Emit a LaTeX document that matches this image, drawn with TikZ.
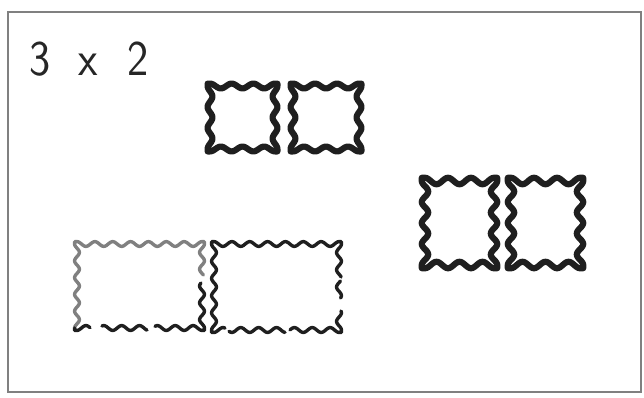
\documentclass[tikz,border=0pt]{standalone}
\usepackage{fontspec}
\begin{document}
\begin{tikzpicture}[x=1pt,y=-1pt,
  stampline/.style={draw=black!88, line width=#1, line cap=round, line join=round},
  stampline/.default=6.2pt,
  frameline/.style={draw=black!50, line width=1.2pt},
  title/.style={font=\sffamily\fontsize{50}{50}\selectfont, text=black!85, inner sep=0pt, anchor=base west, xscale=0.9}]
\useasboundingbox (0,0) rectangle (644,397);
% wave along x: #1 phase origin, #2 from, #3 to, #4 base y, #5 wavelength, #6 signed amplitude (outward peak at origin)
\newcommand\hwv[6]{plot[domain=#2:#3,samples=90,smooth] (\x,{#4+(#6)*cos((\x-#1)/(#5)*360)})}
\newcommand\vwv[6]{plot[domain=#2:#3,samples=90,smooth] ({#4+(#6)*cos((\x-#1)/(#5)*360)},\x)}
% full stamp: #1 x1 #2 y1 #3 x2 #4 y2 #5 nx #6 ny #7 amp
\newcommand\fullstamp[7]{%
  \hwv{#1}{#1}{#3}{#2}{(#3-#1)/#5}{-#7}
  \hwv{#1}{#1}{#3}{#4}{(#3-#1)/#5}{#7}
  \vwv{#2}{#2}{#4}{#1}{(#4-#2)/#6}{-#7}
  \vwv{#2}{#2}{#4}{#3}{(#4-#2)/#6}{#7}
  (#1,#2-#7) -- (#1-#7,#2-#7) -- (#1-#7,#2)
  (#3,#2-#7) -- (#3+#7,#2-#7) -- (#3+#7,#2)
  (#1,#4+#7) -- (#1-#7,#4+#7) -- (#1-#7,#4)
  (#3,#4+#7) -- (#3+#7,#4+#7) -- (#3+#7,#4)}

% frame
\draw[frameline] (8,12) rectangle (641,392);
\coordinate (frame) at (8,12);

% title
\node[title] (t) at (29,75) {3\hspace{31pt}x\hspace{33pt}2};

% small square stamps
\draw[stampline] \fullstamp{210}{86}{275}{149}{3}{3}{2.4};
\draw[stampline] \fullstamp{293}{86}{359}{149}{3}{3}{2.4};

% portrait stamps
\draw[stampline] \fullstamp{425}{181}{494}{265}{3}{4}{3.2};
\draw[stampline] \fullstamp{511}{181}{580}{265}{3}{4}{3.2};

% landscape stamp E (partly faded)
\draw[stampline=3.4pt, draw=black!50]
  \hwv{77}{77}{202}{244}{17.86}{-2.4}
  \vwv{244}{244}{328}{77}{16.8}{-2.4}
  \vwv{244}{244}{275}{202}{16.8}{2.4}
  (77,241.6) -- (74.6,241.6) -- (74.6,244)
  (202,241.6) -- (204.4,241.6) -- (204.4,244);
\draw[stampline=3.4pt]
  \vwv{244}{283}{328}{202}{16.8}{2.4}
  \hwv{77}{77}{90}{328}{17.86}{2.4}
  \hwv{77}{102}{147}{328}{17.86}{2.4}
  \hwv{77}{155}{202}{328}{17.86}{2.4}
  (77,330.4) -- (74.6,330.4) -- (74.6,328)
  (202,330.4) -- (204.4,330.4) -- (204.4,328);

% landscape stamp F (broken)
\draw[stampline=3.4pt]
  \hwv{214}{214}{339}{244}{17.86}{-2.4}
  \vwv{244}{244}{330}{214}{17.2}{-2.4}
  \vwv{244}{244}{277}{339}{17.2}{2.4}
  \vwv{244}{281}{298}{339}{17.2}{2.4}
  \vwv{244}{311}{330}{339}{17.2}{2.4}
  \hwv{214}{214}{225}{330}{17.86}{2.4}
  \hwv{214}{229}{285}{330}{17.86}{2.4}
  \hwv{214}{290}{339}{330}{17.86}{2.4}
  (214,241.6) -- (211.6,241.6) -- (211.6,244)
  (339,241.6) -- (341.4,241.6) -- (341.4,244)
  (214,332.4) -- (211.6,332.4) -- (211.6,330)
  (339,332.4) -- (341.4,332.4) -- (341.4,330);
\end{tikzpicture}
\end{document}
